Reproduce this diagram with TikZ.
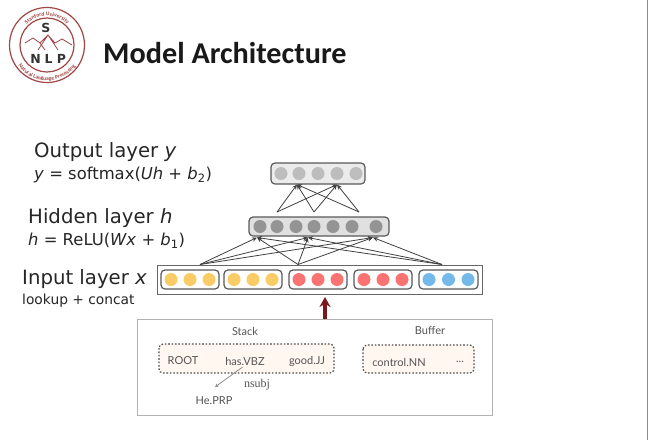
\documentclass[tikz,border=0pt]{standalone}
\usepackage{fontspec}
\usepackage{tikz}
\usetikzlibrary{arrows.meta,decorations.text}
\setmainfont{DejaVu Sans}
\newfontfamily\titlefont{Carlito}
\newfontfamily\wordfont{Lato}
\newfontfamily\serfont{Liberation Serif}
\definecolor{logo red}{rgb}{0.63, 0.27, 0.27}
\definecolor{arrow red}{rgb}{0.48, 0.09, 0.12}
\definecolor{cell yellow}{rgb}{0.98, 0.80, 0.40}
\definecolor{cell red}{rgb}{0.98, 0.45, 0.45}
\definecolor{cell blue}{rgb}{0.45, 0.73, 0.92}
\definecolor{cell gray}{rgb}{0.58, 0.58, 0.58}
\definecolor{cell light}{rgb}{0.74, 0.74, 0.74}
\definecolor{text gray}{rgb}{0.33, 0.33, 0.33}
\tikzset{
	layerbox/.style = {draw = black!65, line width = 1.2pt, rounded corners = 4pt, fill = #1},
	wordbox/.style = {draw = black!70, dash pattern = on 1.6pt off 1.8pt, line width = 1.2pt, rounded corners = 4pt, fill = orange!6},
	netarrow/.style = {draw = black!75, line width = 0.8pt, -{Stealth[length = 5pt, width = 4.5pt]}},
	word/.style = {text = text gray, font = \wordfont\fontsize{11}{13}\selectfont, inner sep = 0pt},
	layername/.style = {text = black!85, font = \fontsize{19.7}{23}\selectfont, anchor = west, inner sep = 0pt},
	layermath/.style = {text = black!85, font = \fontsize{16.4}{19}\selectfont, anchor = west, inner sep = 0pt},
	logoletter/.style = {font = \fontsize{12.5}{13}\selectfont\bfseries, inner sep = 0pt}
}
\begin{document}
\begin{tikzpicture}[x = 1pt, y = -1pt]
			\useasboundingbox (0, 0) rectangle (648, 440);
			% logo
			\begin{scope}[draw = logo red, text = black!80]
				\draw[line width = 1.2pt] (47, 45) circle (37.5) (47, 45) circle (27);
				\path[decorate, decoration = {text along path, text align = center,
					text = {|\titlefont\fontsize{5.6}{6}\selectfont\bfseries\color{logo red}|Stanford University}}]
					(18, 45) arc [start angle = 180, end angle = 0, radius = 29, y radius = -29];
				\path[decorate, decoration = {text along path, text align = center,
					text = {|\titlefont\fontsize{5.6}{6}\selectfont\bfseries\color{logo red}|Natural Language Processing}}]
					(11.5, 45) arc [start angle = 180, end angle = 360, radius = 35.5, y radius = -35.5];
				\node[logoletter] (logoS) at (46, 28) {S};
				\node[logoletter] (logoN) at (35.5, 59) {N};
				\node[logoletter] (logoL) at (48.5, 59) {L};
				\node[logoletter] (logoP) at (61.5, 59) {P};
				\draw[line width = 0.8pt] (25, 43) -- (33, 38) -- (40, 43) -- (48, 35) -- (55, 43) -- (62, 39) -- (72, 45)
					(38, 50) -- (48, 35) (58, 50) -- (48, 35) (40, 43) -- (45, 50);
			\end{scope}
			\node[anchor = west, inner sep = 0pt, text = black!90] (title) at (103, 53)
				{\titlefont\fontsize{30.2}{34}\selectfont\bfseries Model Architecture};
			% layer names
			\node[layername] (outname) at (34, 152) {Output layer \textit{y}};
			\node[layermath] (outmath) at (34, 175) {\textit{y} = softmax(\textit{Uh} + \textit{b}\textsubscript{2})};
			\node[layername] (hidname) at (28, 218) {Hidden layer \textit{h}};
			\node[layermath] (hidmath) at (28, 241) {\textit{h} = ReLU(\textit{Wx} + \textit{b}\textsubscript{1})};
			\node[layername] (inname) at (22, 279) {Input layer \textit{x}};
			\node[layermath, font = \fontsize{13.8}{16}\selectfont] (inmath) at (22, 301) {lookup + concat};
			% input layer
			\draw[draw = black!60, line width = 1pt, fill = white] (157, 265) rectangle (482, 294);
			\foreach \xa/\xb/\col in {161/219/cell yellow, 224/282/cell yellow, 289/347/cell red, 354/412/cell red, 419/478/cell blue} {
				\draw[layerbox = white] (\xa, 270) rectangle (\xb, 289);
				\fill[\col] ({\xa + 10}, 279.5) circle (6.5) ({(\xa + \xb)/2}, 279.5) circle (6.5) ({\xb - 10}, 279.5) circle (6.5);
			}
			% hidden layer
			\draw[layerbox = black!12] (249, 217) rectangle (389, 236);
			\foreach \x in {260, 277, 296, 314, 333, 352, 376}
				\fill[cell gray] (\x, 226.5) circle (6.5);
			% output layer
			\draw[layerbox = black!8] (271, 163) rectangle (365, 184);
			\foreach \x in {281, 299, 318, 337, 356}
				\fill[cell light] (\x, 173.5) circle (6.5);
			% connectors
			\coordinate (inA) at (200, 264.5);
			\coordinate (inB) at (298, 264.5);
			\coordinate (inC) at (442, 264.5);
			\coordinate (hidA) at (257, 237.5);
			\coordinate (hidB) at (308, 237.5);
			\coordinate (hidC) at (373, 237.5);
			\coordinate (upA) at (277, 212);
			\coordinate (upB) at (314, 212);
			\coordinate (upC) at (359, 212);
			\coordinate (outA) at (297, 184.5);
			\coordinate (outB) at (337, 184.5);
			\foreach \a in {inA, inB, inC}
				\foreach \b in {hidA, hidB, hidC}
					\draw[netarrow] (\a) -- (\b);
			\foreach \a in {upA, upB, upC}
				\foreach \b in {outA, outB}
					\draw[netarrow] (\a) -- (\b);
			% configuration
			\node[draw = black!30, line width = 1pt, minimum width = 355pt, minimum height = 96pt, inner sep = 0pt] (config) at (314.5, 367) {};
			\coordinate (feedtop) at (325, 297);
			\draw[draw = arrow red, line width = 3.4pt, -{Stealth[length = 10pt, width = 11pt]}] (config.north -| feedtop) -- (feedtop);
			\draw[wordbox] (159, 344) rectangle (334, 373);
			\draw[wordbox] (363, 345) rectangle (474, 373);
			\node[word] (stack) at (245, 331) {Stack};
			\node[word] (buffer) at (430, 331) {Buffer};
			\node[word] (root) at (183, 361) {ROOT};
			\node[word] (has) at (245, 361) {has.VBZ};
			\node[word] (good) at (307, 361) {good.JJ};
			\node[word] (control) at (399, 362) {control.NN};
			\node[word] (dots) at (460, 362) {...};
			\node[word] (he) at (214, 401) {He.PRP};
			\node[word, font = \serfont\fontsize{12}{14}\selectfont] (nsubj) at (257, 385) {nsubj};
			\draw[draw = black!45, line width = 0.8pt, shorten <= 3pt, -{Stealth[length = 3.5pt, width = 3.5pt]}] (has.south) -- (215, 387);
			% edge of the frame
			\draw[draw = black!45, line width = 1pt] (647.5, 0) -- (647.5, 440);
		\end{tikzpicture}
\end{document}
